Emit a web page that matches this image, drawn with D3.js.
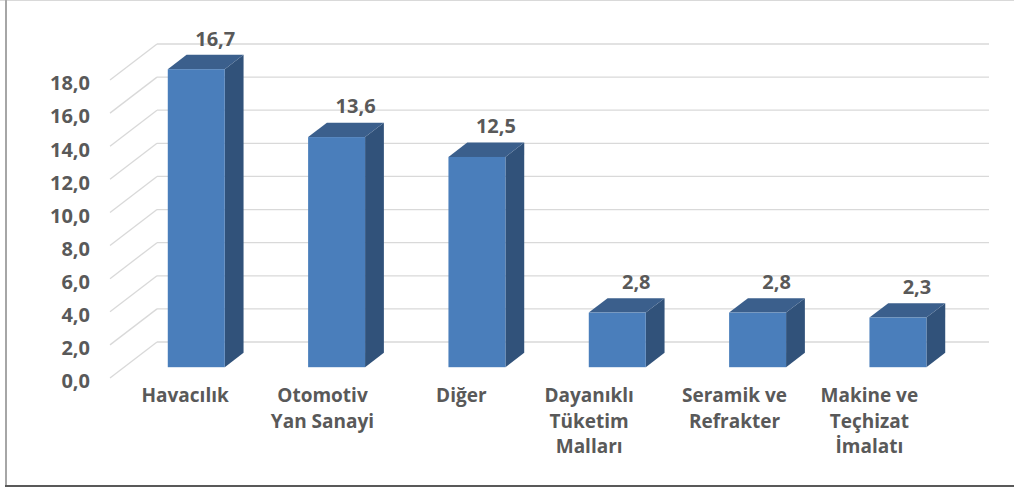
<!DOCTYPE html>
<html>
<head>
<meta charset="utf-8">
<script src="https://cdn.jsdelivr.net/npm/d3@7"></script>
<style>
  html, body { margin: 0; padding: 0; background: #fff; }
  text { font-family: "Open Sans", sans-serif; font-weight: bold; fill: #595959; }
</style>
</head>
<body>
<div id="mainDiv"></div>
<script>
'use strict';

// categories, one array of text lines per bar
var categories = [
    ['Havacılık'],
    ['Otomotiv', 'Yan Sanayi'],
    ['Diğer'],
    ['Dayanıklı', 'Tüketim', 'Malları'],
    ['Seramik ve', 'Refrakter'],
    ['Makine ve', 'Teçhizat', 'İmalatı']
];

// heights of the bars as read against the axis
var barHeights = [18.0, 13.9, 12.7, 3.3, 3.3, 3.0];

// values written in the data labels
var labelValues = [16.7, 13.6, 12.5, 2.8, 2.8, 2.3];

// y axis ticks
var yTicks = [0, 2, 4, 6, 8, 10, 12, 14, 16, 18];

var barChart = {};

barChart.width = 1014;
barChart.height = 488;

// oblique 3D: full depth offset of the back wall, bar front / back depth fractions
barChart.depth = {dx: 47, dy: -36};
barChart.barFront = 0.3;
barChart.barBack = 0.7;

// the wrapped category labels sit a little off their bars
barChart.labelNudge = [3, 0, -1.5, -14, -9, -14.5];

barChart.xScale = d3.scaleBand()
    .domain(d3.range(categories.length))
    .range([112, 954])
    .paddingInner(0.594)
    .paddingOuter(0.297);

// y scale on the front plane of the floor
barChart.yScale = d3.scaleLinear().domain([0, 18]).range([378, 80]);

barChart.colors = {front: '#4a7ebb', side: '#31527a', top: '#3b5f8c', grid: '#d9d9d9'};

barChart.fmt = function(v){
    return d3.format('.1f')(v).replace('.', ',');
};

barChart.appendSVG = function(DOMObj){
    var svg = d3.select(DOMObj)
                    .append('svg')
                    .attr('width', barChart.width)
                    .attr('height', barChart.height);
    return svg;
};

barChart.drawFrame = function(svg){
    svg.append('line').attr('x1', 0).attr('x2', 1014).attr('y1', 0.5).attr('y2', 0.5)
        .attr('stroke', '#d9d9d9').attr('stroke-width', 1);
    svg.append('line').attr('x1', 6).attr('x2', 6).attr('y1', 0).attr('y2', 487)
        .attr('stroke', '#a6a6a6').attr('stroke-width', 2);
    svg.append('line').attr('x1', 5).attr('x2', 1014).attr('y1', 486).attr('y2', 486)
        .attr('stroke', '#595959').attr('stroke-width', 2);
};

barChart.drawWalls = function(svg){
    var d = barChart.depth;
    var y = barChart.yScale;
    var x0 = 110;
    var xBackEnd = 989;

    var g = svg.append('g').attr('class', 'grid');

    // back wall gridlines
    g.selectAll('line.back')
        .data(yTicks)
        .enter().append('line')
        .attr('class', 'back')
        .attr('x1', x0 + d.dx)
        .attr('x2', xBackEnd)
        .attr('y1', function(v){ return y(v) + d.dy; })
        .attr('y2', function(v){ return y(v) + d.dy; })
        .attr('stroke', barChart.colors.grid)
        .attr('stroke-width', 1.3);

    // side wall gridlines
    g.selectAll('line.side')
        .data(yTicks)
        .enter().append('line')
        .attr('class', 'side')
        .attr('x1', x0)
        .attr('x2', x0 + d.dx)
        .attr('y1', function(v){ return y(v); })
        .attr('y2', function(v){ return y(v) + d.dy; })
        .attr('stroke', barChart.colors.grid)
        .attr('stroke-width', 1.3);

    // axis labels
    svg.append('g').selectAll('text')
        .data(yTicks)
        .enter().append('text')
        .attr('x', 90)
        .attr('y', function(v){ return y(v) + 5; })
        .attr('text-anchor', 'end')
        .attr('dominant-baseline', 'middle')
        .style('font-size', '20px')
        .text(barChart.fmt);
};

barChart.drawBars = function(svg){
    var d = barChart.depth;
    var y = barChart.yScale;
    var x = barChart.xScale;
    var w = x.bandwidth();
    var f = barChart.barFront;
    var b = barChart.barBack;
    var bdx = (b - f) * d.dx;
    var bdy = (b - f) * d.dy;

    var data = barHeights.map(function(h, i){ return {i: i, h: h, label: labelValues[i]}; });

    var groups = svg.append('g').selectAll('g')
        .data(data)
        .enter().append('g')
        .attr('transform', function(p){
            return 'translate(' + (x(p.i) + f * d.dx) + ',' + (f * d.dy) + ')';
        });

    // right side face
    groups.append('path')
        .attr('d', function(p){
            var top = y(p.h), bot = y(0);
            return 'M' + w + ',' + top + 'L' + (w + bdx) + ',' + (top + bdy) +
                   'L' + (w + bdx) + ',' + (bot + bdy) + 'L' + w + ',' + bot + 'Z';
        })
        .attr('fill', barChart.colors.side);

    // top face
    groups.append('path')
        .attr('d', function(p){
            var top = y(p.h);
            return 'M0,' + top + 'L' + bdx + ',' + (top + bdy) +
                   'L' + (w + bdx) + ',' + (top + bdy) + 'L' + w + ',' + top + 'Z';
        })
        .attr('fill', barChart.colors.top);

    // front face
    groups.append('rect')
        .attr('x', 0)
        .attr('y', function(p){ return y(p.h); })
        .attr('width', w)
        .attr('height', function(p){ return y(0) - y(p.h); })
        .attr('fill', barChart.colors.front);

    // data labels
    groups.append('text')
        .attr('x', w / 2 + 19)
        .attr('y', function(p){ return y(p.h) - 29; })
        .attr('text-anchor', 'middle')
        .attr('dominant-baseline', 'middle')
        .style('font-size', '20px')
        .text(function(p){ return barChart.fmt(p.label); });
};

barChart.drawCategories = function(svg){
    var x = barChart.xScale;
    var y = barChart.yScale;

    var labels = svg.append('g').selectAll('text')
        .data(categories)
        .enter().append('text')
        .attr('text-anchor', 'middle')
        .style('font-size', '19px')
        .attr('transform', function(c, i){
            var cx = x(i) + x.bandwidth() / 2 + barChart.labelNudge[i];
            return 'translate(' + cx + ',' + (y(0) + 19) + ')';
        });

    labels.selectAll('tspan')
        .data(function(c){ return c; })
        .enter().append('tspan')
        .attr('x', 0)
        .attr('y', function(t, j){ return j * 25.5; })
        .attr('dominant-baseline', 'middle')
        .text(function(t){ return t; });
};

barChart.start = function(){
    var svg = barChart.appendSVG('#mainDiv');
    barChart.drawFrame(svg);
    barChart.drawWalls(svg);
    barChart.drawBars(svg);
    barChart.drawCategories(svg);
};

window.onload = barChart.start;
</script>
</body>
</html>
